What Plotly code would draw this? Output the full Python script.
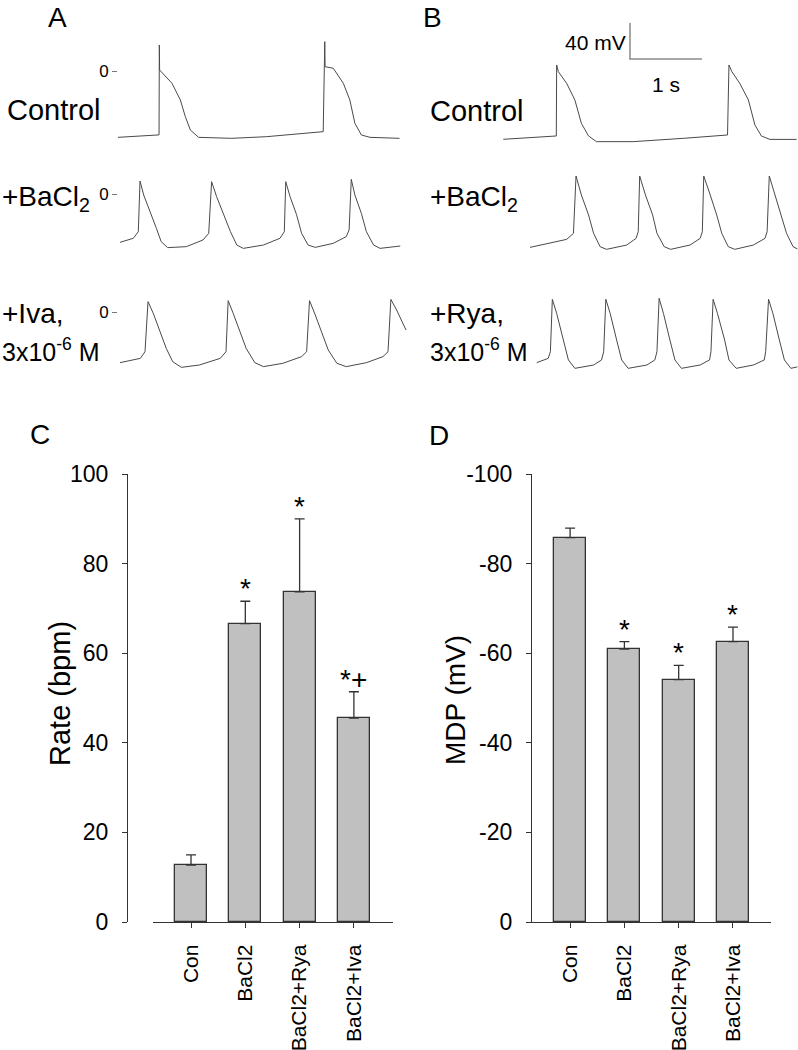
import plotly.graph_objects as go

W, H = 798, 1050
FONT = "Liberation Sans, Arial, sans-serif"

# ---- panel C / D data ----
categories = ["Con", "BaCl2", "BaCl2+Rya", "BaCl2+Iva"]
rate_mean = [12.7, 66.6, 73.7, 45.5]
rate_sem = [2.3, 5.0, 16.3, 5.9]
rate_sig = ["", "*", "*", "*+"]
mdp_mean = [-85.8, -60.9, -54.1, -62.6]
mdp_sem = [2.1, 1.7, 3.2, 3.2]
mdp_sig = ["", "*", "*", "*"]
rate_ticks = [0, 20, 40, 60, 80, 100]
mdp_ticks = [0, -20, -40, -60, -80, -100]

# ---- action potential traces (time s, membrane potential mV) ----
ctrl_a_t = [0.0, 0.56, 0.570, 0.574, 0.578, 0.75, 0.866, 0.935, 1.005, 1.12, 1.58, 2.06,
            2.85, 2.872, 2.876, 2.99, 3.13, 3.22, 3.29, 3.38, 3.50, 3.91]
ctrl_a_mv = [-73.7, -71.1, -71.0, 28.9, 1.1, -13.7, -32.2, -50.7, -65.6, -73.7, -74.8, -73.0,
             -67.4, 32.6, 4.8, 3.0, -13.7, -32.2, -58.1, -71.1, -73.7, -74.8]

ba_a_t = [0.028, 0.213, 0.282, 0.306, 0.357, 0.44, 0.533, 0.60, 0.69, 0.95,
          1.18, 1.26, 1.30, 1.37, 1.46, 1.56, 1.65, 1.74, 2.02, 2.25,
          2.31, 2.33, 2.39, 2.48, 2.55, 2.64, 2.74, 2.99, 3.17, 3.21,
          3.24, 3.29, 3.38, 3.45, 3.55, 3.64, 3.92]
ba_a_mv = [-53.7, -49.2, -41.9, 14.4, -1.1, -17.8, -38.1, -53.0, -59.6, -58.5,
           -51.1, -43.7, 13.7, -3.0, -20.7, -41.5, -56.7, -60.4, -56.7, -49.2,
           -41.9, 13.7, -3.0, -23.0, -43.7, -56.7, -59.3, -54.8, -47.4, -40.0,
           16.3, -1.1, -21.5, -41.9, -56.7, -60.4, -57.8]

iva_t = [0.028, 0.31, 0.375, 0.417, 0.49, 0.58, 0.67, 0.76, 0.88, 1.13,
         1.42, 1.50, 1.53, 1.60, 1.69, 1.78, 1.90, 2.02, 2.29, 2.55,
         2.62, 2.66, 2.74, 2.83, 2.92, 3.04, 3.17, 3.45, 3.68, 3.75,
         3.79, 3.87, 4.0]
iva_mv = [-56.3, -51.5, -44.1, 11.5, -1.5, -20.0, -40.4, -55.2, -61.5, -58.9,
          -51.5, -44.1, 12.6, -1.5, -20.0, -40.4, -56.3, -60.7, -57.0, -49.6,
          -44.1, 12.6, -3.3, -21.8, -42.2, -57.0, -60.7, -56.3, -49.6, -44.1,
          14.0, 2.2, -20.0]

ctrl_b_t = [0.046, 0.74, 0.782, 0.787, 0.81, 0.926, 1.04, 1.13, 1.23, 1.34, 1.85,
            2.55, 3.16, 3.18, 3.22, 3.33, 3.45, 3.54, 3.63, 3.75, 4.12]
ctrl_b_mv = [-75.9, -72.2, -72.2, 6.7, -0.7, -13.7, -32.2, -58.1, -72.2, -78.5, -78.5,
             -74.8, -71.1, 6.7, -0.7, -13.7, -32.2, -59.9, -72.2, -76.0, -76.0]

ba_b_t = [0.417, 0.926, 1.02, 1.056, 1.13, 1.23, 1.30, 1.39, 1.48, 1.76,
          1.89, 1.92, 1.94, 2.02, 2.12, 2.18, 2.28, 2.37, 2.64, 2.78,
          2.81, 2.83, 2.92, 3.01, 3.08, 3.17, 3.26, 3.52, 3.68, 3.71,
          3.74, 3.82, 3.91, 3.98, 4.07, 4.13]
ba_b_mv = [-59.3, -50.4, -43.7, 20.0, -1.1, -23.3, -43.7, -58.5, -61.5, -56.7,
           -49.3, -41.9, 20.0, -1.1, -23.3, -43.7, -58.5, -61.5, -56.7, -49.3,
           -41.9, 20.0, -1.1, -23.3, -43.7, -58.5, -61.5, -56.7, -49.3, -41.9,
           20.0, -1.1, -23.3, -43.7, -58.5, -61.0]

rya_t = [0.51, 0.67, 0.70, 0.727, 0.787, 0.88, 0.95, 1.04, 1.30, 1.41,
         1.44, 1.47, 1.53, 1.62, 1.69, 1.78, 2.04, 2.15, 2.18, 2.21,
         2.27, 2.36, 2.43, 2.52, 2.78, 2.91, 2.93, 2.96, 3.02, 3.12,
         3.18, 3.28, 3.52, 3.67, 3.69, 3.73, 3.79, 3.88, 3.95, 4.04,
         4.13]
rya_mv = [-56.3, -51.5, -44.1, 14.1, -1.5, -31.1, -53.3, -62.6, -58.9, -53.3,
          -44.1, 14.1, -1.5, -31.1, -53.3, -62.6, -58.9, -53.3, -44.1, 15.2,
          -1.5, -31.1, -53.3, -62.6, -58.9, -53.3, -44.1, 14.1, -1.5, -31.1,
          -53.3, -62.6, -58.9, -53.3, -44.1, 14.1, -1.5, -31.1, -53.3, -62.6,
          -61.0]

SCALE_MV = 40
SCALE_S = 1

# pixel scale of the recordings
PX_PER_S = 72.0
PX_PER_MV = 0.9


def fx(px):
    return px / W


def fy(py):
    return 1 - py / H


fig = go.Figure()
layout = {}

# rows: (name, x-left px, x-right px, top px, bottom px, zero px, t, mv, show zero tick)
rows = [
    ("A1", 118, 410, 10, 150, 71, ctrl_a_t, ctrl_a_mv, True),
    ("A2", 118, 410, 165, 265, 194, ba_a_t, ba_a_mv, True),
    ("A3", 118, 410, 285, 385, 312, iva_t, iva_mv, True),
    ("B1", 500, 798, 10, 150, 71, ctrl_b_t, ctrl_b_mv, False),
    ("B2", 500, 798, 165, 265, 194, ba_b_t, ba_b_mv, False),
    ("B3", 500, 798, 285, 385, 312, rya_t, rya_mv, False),
]

for i, (name, xl, xr, top, bot, zero, t, mv, show0) in enumerate(rows):
    n = i + 3
    xa, ya = f"xaxis{n}", f"yaxis{n}"
    fig.add_trace(go.Scatter(
        x=t, y=mv, mode="lines", xaxis=f"x{n}", yaxis=f"y{n}",
        line=dict(color="#4a4a4a", width=1), showlegend=False, hoverinfo="skip"
    ))
    layout[xa] = dict(domain=[fx(xl), fx(xr)], range=[0, (xr - xl) / PX_PER_S],
                      anchor=f"y{n}", visible=False, automargin=False)
    layout[ya] = dict(domain=[fy(bot), fy(top)],
                      range=[-(bot - zero) / PX_PER_MV, (zero - top) / PX_PER_MV],
                      anchor=f"x{n}", showgrid=False, zeroline=False, showline=False,
                      tickvals=[0], ticktext=["0"], ticks="outside" if show0 else "",
                      ticklen=5, tickcolor="#777777", showticklabels=show0,
                      automargin=False,
                      tickfont=dict(size=17, color="black", family=FONT))
    if name == "B1":
        # scale bar 40 mV / 1 s
        t0, v0 = (630 - xl) / PX_PER_S, (zero - 59) / PX_PER_MV
        fig.add_trace(go.Scatter(
            x=[t0, t0, t0 + SCALE_S], y=[v0 + SCALE_MV, v0, v0], mode="lines",
            xaxis=f"x{n}", yaxis=f"y{n}", line=dict(color="#8a8a8a", width=1.5),
            showlegend=False, hoverinfo="skip"
        ))
        fig.add_annotation(x=t0, y=v0 + SCALE_MV * 0.45, xref=f"x{n}", yref=f"y{n}",
                           text=f"{SCALE_MV} mV", showarrow=False, xanchor="right",
                           xshift=-2, font=dict(size=21, family=FONT, color="black"))
        fig.add_annotation(x=t0 + SCALE_S / 2, y=v0, xref=f"x{n}", yref=f"y{n}",
                           text=f"{SCALE_S} s", showarrow=False, yanchor="middle",
                           yshift=-26, font=dict(size=21, family=FONT, color="black"))

# ---- bar panels ----
bar_style = dict(marker=dict(color="#c0c0c0", line=dict(color="#333333", width=1.3)),
                 width=0.59, showlegend=False, hoverinfo="skip")
err_style = dict(color="#333333", thickness=1.3, width=5, symmetric=False)

xs = list(range(len(categories)))
fig.add_trace(go.Bar(x=xs, y=rate_mean, xaxis="x", yaxis="y",
                     error_y=dict(array=rate_sem, arrayminus=[0] * 4, **err_style),
                     **bar_style))
fig.add_trace(go.Bar(x=xs, y=mdp_mean, xaxis="x2", yaxis="y2",
                     error_y=dict(array=[0] * 4, arrayminus=mdp_sem, **err_style),
                     **bar_style))

tickfont = dict(size=23, color="black", family=FONT)
catfont = dict(size=21, color="black", family=FONT)
axis_common = dict(showgrid=False, zeroline=False, showline=True, linecolor="#333333",
                   linewidth=1.3, ticks="outside", ticklen=5, tickcolor="#333333",
                   tickwidth=1.3, automargin=False)

layout["yaxis"] = dict(domain=[fy(922), fy(474)], range=[0, 100], anchor="free",
                       position=fx(127), tickvals=rate_ticks,
                       ticktext=[str(v) for v in rate_ticks], tickfont=tickfont,
                       ticklabelstandoff=9, **axis_common)
layout["xaxis"] = dict(domain=[fx(153), fx(393)], range=[-0.70, 3.72], anchor="y",
                       tickvals=xs, ticktext=categories, tickangle=-90,
                       tickfont=catfont, ticklabelstandoff=8, **axis_common)
layout["yaxis2"] = dict(domain=[fy(922), fy(474)], range=[0, -100], anchor="free",
                        position=fx(531), tickvals=mdp_ticks,
                        ticktext=[str(v) for v in mdp_ticks], tickfont=tickfont,
                        ticklabelstandoff=9, **axis_common)
layout["xaxis2"] = dict(domain=[fx(531), fx(771)], range=[-0.72, 3.70], anchor="y2",
                        tickvals=xs, ticktext=categories, tickangle=-90,
                        tickfont=catfont, ticklabelstandoff=8, **axis_common)

# significance marks
for ref, means, sems, sig, sign in [("", rate_mean, rate_sem, rate_sig, 1),
                                    ("2", mdp_mean, mdp_sem, mdp_sig, -1)]:
    for i, s in enumerate(sig):
        if s:
            fig.add_annotation(x=i, y=means[i] + sign * sems[i], xref=f"x{ref}",
                               yref=f"y{ref}", text=s, showarrow=False,
                               yanchor="bottom", yshift=-5,
                               font=dict(size=28, family=FONT, color="black"))

# ---- texts ----
texts = [
    ("A", 57, 18, 28, "center"), ("B", 432, 18, 28, "center"),
    ("C", 40, 434, 28, "center"), ("D", 439, 435, 28, "center"),
    ("Control", 5, 110, 29, "left"), ("Control", 428, 111, 29, "left"),
    ("+BaCl<sub>2</sub>", 0, 198, 28, "left"), ("+BaCl<sub>2</sub>", 428, 198, 28, "left"),
    ("+Iva,", 0, 313, 28, "left"), ("3x10<sup>-6</sup> M", 0, 350, 25, "left"),
    ("+Rya,", 428, 313, 28, "left"), ("3x10<sup>-6</sup> M", 428, 350, 25, "left"),
]
for txt, x, y, size, anchor in texts:
    fig.add_annotation(x=fx(x), y=fy(y), xref="paper", yref="paper", text=txt,
                       showarrow=False, xanchor=anchor, yanchor="middle",
                       font=dict(size=size, family=FONT, color="black"))

fig.add_annotation(x=fx(42), y=fy(694), xref="paper", yref="paper", text="Rate (bpm)",
                   textangle=-90, showarrow=False,
                   font=dict(size=29, family=FONT, color="black"))
fig.add_annotation(x=fx(455), y=fy(700), xref="paper", yref="paper", text="MDP (mV)",
                   textangle=-90, showarrow=False,
                   font=dict(size=28, family=FONT, color="black"))

fig.update_layout(
    width=W, height=H,
    margin=dict(l=0, r=0, t=0, b=0, pad=0, autoexpand=False),
    paper_bgcolor="white", plot_bgcolor="rgba(0,0,0,0)",
    bargap=0, showlegend=False,
    font=dict(family=FONT, color="black"),
    **layout
)

# remove the default page margin so the figure sits at the window origin
fig.write_html("out.html", config={"displayModeBar": False},
               post_script="document.body.style.margin='0';")
